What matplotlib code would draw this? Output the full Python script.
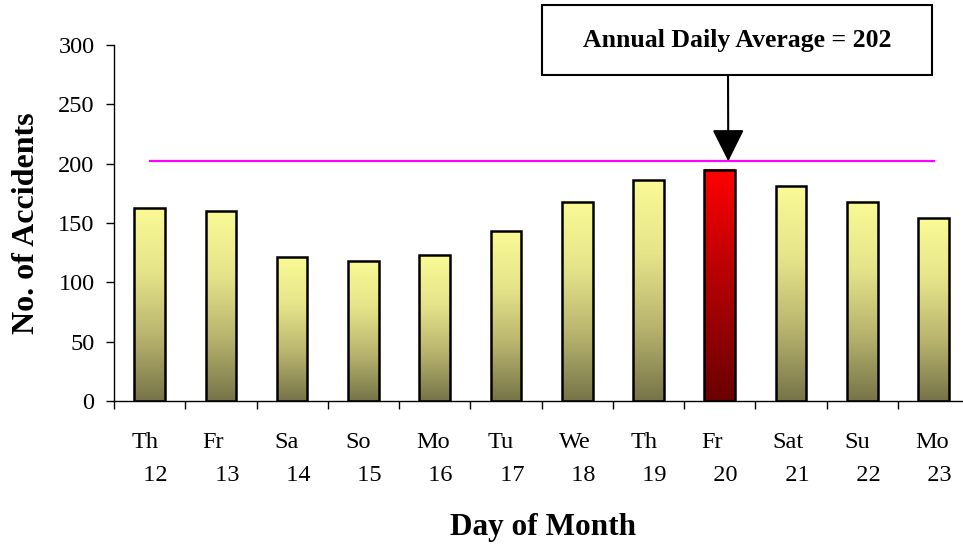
import matplotlib
matplotlib.use("Agg")
import matplotlib.pyplot as plt
import numpy as np
from matplotlib.colors import LinearSegmentedColormap
from matplotlib.patches import Rectangle

# data
days = ["Th", "Fr", "Sa", "So", "Mo", "Tu", "We", "Th", "Fr", "Sat", "Su", "Mo"]
dates = [12, 13, 14, 15, 16, 17, 18, 19, 20, 21, 22, 23]
accidents = [163, 160, 121, 118, 123, 143, 168, 186, 195, 181, 168, 154]
annual_avg = 202
highlight = 8   # Fr 20

plt.rcParams['font.family'] = ['Liberation Serif', 'DejaVu Serif']

yellow_cm = LinearSegmentedColormap.from_list("yel", ["#767448", "#b8b46e", "#e6e48a", "#fafa96"])
red_cm = LinearSegmentedColormap.from_list("red", ["#6a0000", "#b00000", "#ff0000"])

fig = plt.figure(figsize=(9.63, 5.49), dpi=100)
ax = fig.add_axes([0.1184, 0.2696, 0.888, 0.6485])

x = np.arange(len(accidents))
width = 0.43
grad = np.linspace(0, 1, 256).reshape(-1, 1)

bars = ax.bar(x, accidents, width=width, facecolor='none', edgecolor='black',
              linewidth=1.8, zorder=3)
for i, b in enumerate(bars):
    cm = red_cm if i == highlight else yellow_cm
    x0 = b.get_x()
    ax.imshow(grad, cmap=cm, origin='lower', aspect='auto', zorder=2,
              extent=[x0, x0 + b.get_width(), 0, b.get_height()])

# average line
ax.plot([x[0], x[-1]], [annual_avg, annual_avg], color='#ff00ff', lw=1.6, zorder=4)

ax.set_xlim(-0.5, len(accidents) - 0.5)
ax.set_ylim(0, 300)
ax.set_yticks(np.arange(0, 301, 50))

# category boundaries as major ticks, labels on minor ticks
ax.set_xticks(np.arange(-0.5, len(accidents), 1.0))
ax.set_xticklabels([])
ax.set_xticks(x, minor=True)
ax.set_xticklabels([f"{d}\n  {n}" for d, n in zip(days, dates)], minor=True,
                   multialignment='left', linespacing=1.8)
ax.tick_params(axis='x', which='minor', length=0, pad=22, labelsize=17.5)
ax.tick_params(axis='x', which='major', length=6, width=1)
ax.tick_params(axis='y', length=6, width=1, pad=8, labelsize=17.5)

for s in ['top', 'right']:
    ax.spines[s].set_visible(False)
ax.spines['left'].set_linewidth(1)
ax.spines['bottom'].set_linewidth(1)

ax.set_ylabel("No. of Accidents", fontsize=23, fontweight='bold', labelpad=12)
fig.text(543 / 963, 1 - 527 / 549, "Day of Month", fontsize=22.5, fontweight='bold',
         ha='center', va='center')

# annotation box with arrow
fig.patches.append(Rectangle((542 / 963, 1 - 75 / 549), 390 / 963, 70 / 549,
                             transform=fig.transFigure, facecolor='white',
                             edgecolor='black', lw=1.5))
fig.text(737 / 963, 1 - 41 / 549, f"Annual Daily Average = {annual_avg}",
         fontsize=18.5, fontweight='bold', ha='center', va='center')
ax.annotate('', xy=(highlight + 0.12, annual_avg), xycoords='data',
            xytext=(728 / 963, 1 - 71 / 549), textcoords='figure fraction',
            arrowprops=dict(arrowstyle='-|>,head_length=0.8,head_width=0.4',
                            mutation_scale=25, lw=1.5, color='black',
                            shrinkA=0, shrinkB=0),
            annotation_clip=False, zorder=5)

fig.savefig("out.png", dpi=100)
